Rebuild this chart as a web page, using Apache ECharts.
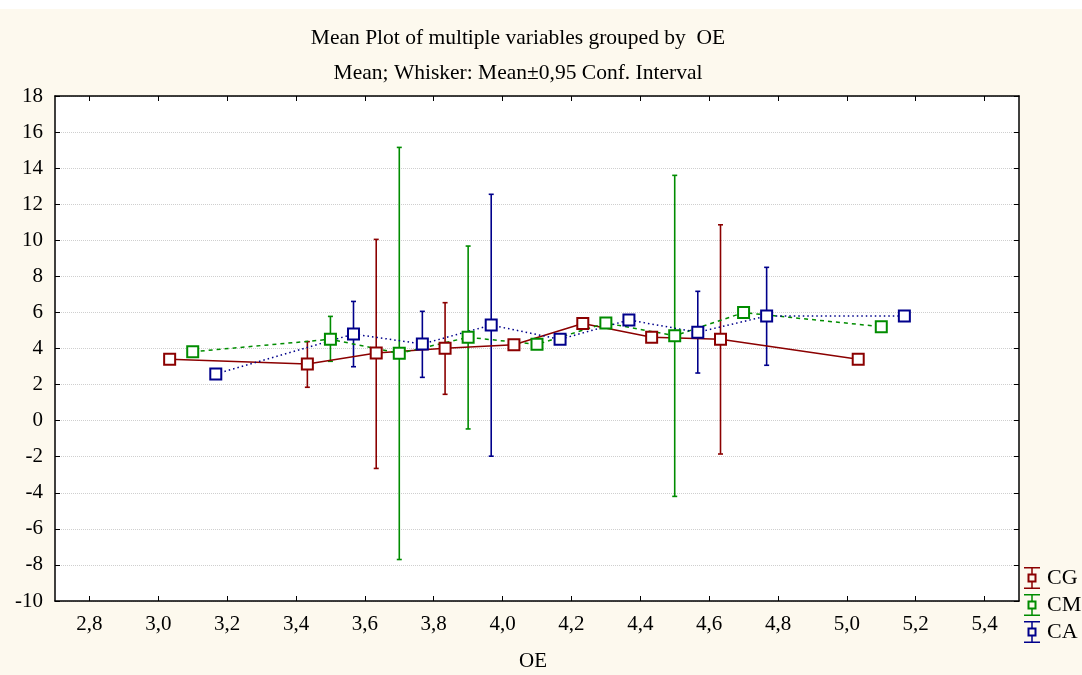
<!DOCTYPE html>
<html>
<head>
<meta charset="utf-8">
<script src="https://cdn.jsdelivr.net/npm/echarts@6/dist/echarts.min.js"></script>
<style>
  html, body { margin: 0; padding: 0; background: #ffffff; }
  #chart { width: 1082px; height: 675px; }
</style>
</head>
<body>
<div id="chart"></div>
<script>
// OE positions (each variable slightly offset), means and 0.95 CI whiskers
var cgX = [3.033, 3.433, 3.633, 3.833, 4.033, 4.233, 4.433, 4.633, 5.033];
var cgMean = [3.40, 3.14, 3.75, 4.01, 4.21, 5.39, 4.62, 4.51, 3.40];
var cgLow = [null, 1.85, -2.65, 1.46, null, null, null, -1.85, null];
var cgHigh = [null, 4.38, 10.05, 6.54, null, null, null, 10.86, null];

var cmX = [3.1, 3.5, 3.7, 3.9, 4.1, 4.3, 4.5, 4.7, 5.1];
var cmMean = [3.82, 4.51, 3.73, 4.62, 4.23, 5.41, 4.71, 5.99, 5.21];
var cmLow = [null, 3.29, -7.7, -0.46, null, null, -4.2, null, null];
var cmHigh = [null, 5.78, 15.15, 9.68, null, null, 13.6, null, null];

var caX = [3.167, 3.567, 3.767, 3.967, 4.167, 4.367, 4.567, 4.767, 5.167];
var caMean = [2.59, 4.80, 4.25, 5.30, 4.51, 5.58, 4.90, 5.80, 5.80];
var caLow = [null, 2.99, 2.40, -1.97, null, null, 2.64, 3.07, null];
var caHigh = [null, 6.61, 6.06, 12.55, null, null, 7.17, 8.50, null];

var xTicks = [2.8, 3.0, 3.2, 3.4, 3.6, 3.8, 4.0, 4.2, 4.4, 4.6, 4.8, 5.0, 5.2, 5.4];

var font = '"Liberation Serif", "Times New Roman", serif';
var legendIcon = 'path://M0 0h32v3h-32zM14.5 3h3v10h-3zM7 13h18v4h-18zM7 27h18v4h-18zM7 13h4v18h-4zM21 13h4v18h-4zM14.5 31h3v10h-3zM0 41h32v3h-32z';

function pts(xs, ys) {
  var out = [];
  for (var i = 0; i < xs.length; i++) out.push([xs[i], ys[i]]);
  return out;
}
function bars(xs, lo, hi) {
  var out = [];
  for (var i = 0; i < xs.length; i++) {
    if (lo[i] != null) out.push([xs[i], lo[i], hi[i]]);
  }
  return out;
}

function whisker(color) {
  return function (params, api) {
    var x = api.value(0);
    var a = api.coord([x, api.value(1)]);
    var b = api.coord([x, api.value(2)]);
    var st = { stroke: color, lineWidth: 1.6 };
    return {
      type: 'group',
      children: [
        { type: 'line', shape: { x1: a[0], y1: a[1], x2: b[0], y2: b[1] }, style: st },
        { type: 'line', shape: { x1: a[0] - 2.5, y1: a[1], x2: a[0] + 2.5, y2: a[1] }, style: st },
        { type: 'line', shape: { x1: b[0] - 2.5, y1: b[1], x2: b[0] + 2.5, y2: b[1] }, style: st }
      ]
    };
  };
}

var colors = { CG: '#8b0000', CM: '#008c00', CA: '#00008b' };

function lineSeries(name, data, type) {
  return {
    name: name,
    type: 'line',
    data: data,
    z: 3,
    symbol: 'emptyRect',
    symbolSize: 11,
    itemStyle: { color: colors[name], borderWidth: 2 },
    lineStyle: { color: colors[name], width: 1.5, type: type },
    emphasis: { disabled: true }
  };
}
function barSeries(name, data) {
  return {
    type: 'custom',
    data: data,
    z: 1,
    encode: { x: 0, y: [1, 2] },
    renderItem: whisker(colors[name])
  };
}

var chart = echarts.init(document.getElementById('chart'));
var option = {
  backgroundColor: '#fdf9ee',
  animation: false,
  graphic: [
    { type: 'rect', shape: { x: 0, y: 0, width: 1082, height: 9 }, style: { fill: '#ffffff' } },
    { type: 'rect', z: -10, shape: { x: 55, y: 96, width: 964, height: 505 }, style: { fill: '#ffffff' } }
  ],
  title: [
    { text: 'Mean Plot of multiple variables grouped by  OE', left: 513, top: 22, textAlign: 'center',
      textStyle: { fontFamily: font, fontSize: 21.5, fontWeight: 'normal', color: '#000' } },
    { text: 'Mean; Whisker: Mean\u00b10,95 Conf. Interval', left: 513, top: 57, textAlign: 'center',
      textStyle: { fontFamily: font, fontSize: 21.5, fontWeight: 'normal', color: '#000' } }
  ],
  legend: {
    orient: 'vertical',
    left: 1019,
    top: 562,
    itemWidth: 16,
    itemHeight: 22,
    itemGap: 5,
    icon: legendIcon,
    data: ['CG', 'CM', 'CA'],
    textStyle: { fontFamily: font, fontSize: 22, color: '#000', padding: [0, 0, 0, 2] }
  },
  grid: { left: 55, top: 96, right: 63, bottom: 74, outerBoundsMode: 'none' },
  xAxis: [
    {
      type: 'value', min: 2.7, max: 5.5,
      name: 'OE', nameLocation: 'middle', nameGap: 50,
      nameTextStyle: { fontFamily: font, fontSize: 21, color: '#000', padding: [0, 8, 0, 0] },
      axisLine: { show: true, onZero: false, lineStyle: { color: '#000', width: 1.5 } },
      axisTick: { inside: true, length: 5, customValues: xTicks, lineStyle: { color: '#000' } },
      axisLabel: { customValues: xTicks, margin: 13, fontFamily: font, fontSize: 21, color: '#000',
        formatter: function (v) { return v.toFixed(1).replace('.', ','); } },
      splitLine: { show: false }
    },
    {
      type: 'value', min: 2.7, max: 5.5, position: 'top',
      axisLine: { show: true, onZero: false, lineStyle: { color: '#000', width: 1.5 } },
      axisTick: { inside: true, length: 5, customValues: xTicks, lineStyle: { color: '#000' } },
      axisLabel: { show: false },
      splitLine: { show: false }
    }
  ],
  yAxis: [
    {
      type: 'value', min: -10, max: 18, interval: 2,
      axisLine: { show: true, onZero: false, lineStyle: { color: '#000', width: 1.5 } },
      axisTick: { show: true, inside: true, length: 5, lineStyle: { color: '#000' } },
      axisLabel: { margin: 12, fontFamily: font, fontSize: 21, color: '#000' },
      splitLine: { show: true, lineStyle: { color: '#cfcfcf', type: 'dotted', width: 1 } }
    },
    {
      type: 'value', min: -10, max: 18, interval: 2, position: 'right',
      axisLine: { show: true, onZero: false, lineStyle: { color: '#000', width: 1.5 } },
      axisTick: { show: true, inside: true, length: 5, lineStyle: { color: '#000' } },
      axisLabel: { show: false },
      splitLine: { show: false }
    }
  ],
  series: [
    barSeries('CG', bars(cgX, cgLow, cgHigh)),
    barSeries('CM', bars(cmX, cmLow, cmHigh)),
    barSeries('CA', bars(caX, caLow, caHigh)),
    lineSeries('CG', pts(cgX, cgMean), 'solid'),
    lineSeries('CM', pts(cmX, cmMean), [4, 4]),
    lineSeries('CA', pts(caX, caMean), [1.5, 3])
  ]
};
chart.setOption(option);
</script>
</body>
</html>
